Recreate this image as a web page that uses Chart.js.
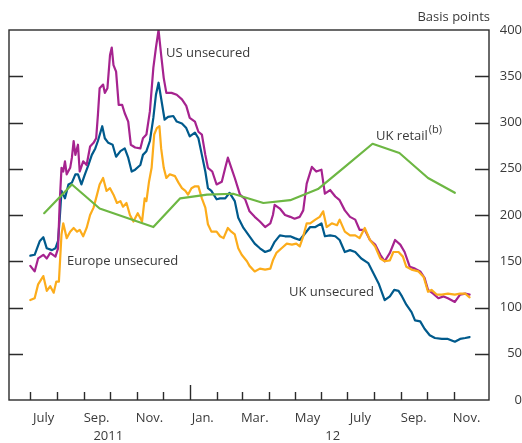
<!DOCTYPE html>
<html>
<head>
<meta charset="utf-8">
<script src="https://cdn.jsdelivr.net/npm/chart.js@4"></script>
<style>
html,body{margin:0;padding:0;background:#fff;}
#wrap{width:522px;height:443px;}
</style>
</head>
<body>
<div id="wrap"><canvas id="c" width="522" height="443"></canvas></div>
<script>
// x values: days since 1 July 2011; y values: basis points
const ukUnsecuredDays = [0,5,11,15,19,25,29,32,34,36,40,44,48,52,55,59,63,67,71,75,78,83,86,90,95,99,104,109,113,117,121,127,130,134,138,142,145,148,151,155,159,165,169,175,180,184,190,194,198,202,205,209,215,219,225,230,236,240,246,253,259,265,271,277,282,288,294,300,305,311,317,323,329,336,340,346,352,357,363,369,375,382,390,396,402,409,415,420,425,429,434,440,444,450,455,461,467,475,482,490,496,502,507];
const ukUnsecuredBp   = [156,157,172,176,164,162,164,172,197,226,218,233,235,244,244,233,244,254,265,272,280,296,283,278,276,263,269,272,262,247,249,254,265,269,280,305,330,343,326,303,306,307,301,299,294,285,289,283,265,247,229,226,217,218,218,224,215,197,186,177,169,164,160,162,171,178,177,177,175,173,180,187,187,191,177,178,177,173,160,162,160,153,148,137,126,108,112,119,118,112,103,95,86,85,77,70,67,66,66,63,66,67,68];

const usUnsecuredDays = [0,5,9,15,19,23,29,32,34,36,38,40,42,46,48,50,52,55,57,61,65,69,73,76,78,80,84,86,89,92,94,96,99,102,106,109,113,116,121,127,130,134,138,142,145,148,151,154,157,163,169,175,180,184,190,194,198,202,205,210,215,221,225,228,232,236,242,248,253,259,265,271,277,280,282,288,294,300,305,311,315,319,325,330,336,340,346,352,357,363,369,375,380,386,392,398,404,409,415,421,427,432,438,444,450,455,459,465,471,477,482,490,496,502,507];
const usUnsecuredBp   = [145,139,153,157,153,159,155,164,215,251,247,258,244,251,262,280,265,276,247,258,254,274,278,283,308,337,341,332,337,373,381,362,355,319,319,310,301,276,273,272,283,287,312,359,381,400,373,348,332,332,330,325,318,305,301,290,287,265,251,247,233,236,251,262,251,240,222,217,204,198,193,187,191,200,211,207,200,198,196,198,205,234,252,247,249,223,227,220,216,205,198,195,184,184,173,168,157,150,159,173,168,160,144,142,139,132,119,115,110,112,110,106,114,115,114];

const europeUnsecuredDays = [0,5,9,15,19,23,27,30,33,36,38,42,46,50,54,57,61,65,69,73,77,80,84,88,92,96,100,104,107,111,115,119,124,129,132,134,137,140,143,146,149,151,154,157,161,167,171,175,179,182,186,190,194,198,202,205,209,215,219,223,228,232,236,240,244,250,253,259,265,271,277,280,284,290,296,302,307,311,315,319,323,329,334,338,342,348,354,357,363,369,375,380,386,392,398,404,409,415,419,425,430,434,440,448,454,459,463,469,475,482,490,496,502,507];
const europeUnsecuredBp   = [108,110,125,134,118,123,116,128,128,179,191,175,182,186,182,184,177,186,200,208,222,233,240,226,229,222,213,215,209,213,200,193,202,193,218,215,236,251,287,294,296,272,251,240,244,242,235,229,226,222,229,231,231,218,208,190,182,182,177,175,186,182,179,164,157,150,145,139,142,141,142,151,159,164,169,168,169,166,177,191,191,195,198,204,187,191,189,195,182,178,178,175,186,173,166,153,150,151,160,160,155,144,141,139,133,117,119,114,114,115,114,115,115,111];

const ukRetailDays = [16,48,80,111,142,173,204,234,269,300,332,363,395,426,459,490];
const ukRetailBp   = [202,233,207,197,187,218,222,223,213,216,228,252,277,267,240,224];

const yTicks = [0,50,100,150,200,250,300,350,400];
const monthTickDays = [0,31,62,92,123,153,184,215,244,275,305,336,366,397,428,458,489];
const yearStartDays = [184];
const monthLabels = ['July','Sep.','Nov.','Jan.','Mar.','May','July','Sep.','Nov.'];
const monthLabelDays = [15.5,76.5,137.5,199,259,320,381,442.5,503.5];
const yearLabels = ['2011','12'];
const yearLabelDays = [90,349];

const FONT = '"Open Sans", "Noto Sans", sans-serif';
const TEXT = '#3a3a3a';

function pts(days, vals){ return days.map((d,i)=>({x:d,y:vals[i]})); }

const frame = {
  id:'frame',
  afterDraw(chart){
    const {ctx, chartArea:a, scales:{x, y}} = chart;
    ctx.save();
    ctx.strokeStyle = '#2b2b2b';
    ctx.lineWidth = 1.4;
    ctx.strokeRect(a.left, a.top, a.right - a.left, a.bottom - a.top);
    ctx.beginPath();
    yTicks.forEach(v=>{
      if (v <= y.min || v >= y.max) return;
      const py = Math.round(y.getPixelForValue(v)) + 0.5;
      ctx.moveTo(a.left, py); ctx.lineTo(a.left + 14, py);
      ctx.moveTo(a.right - 14, py); ctx.lineTo(a.right, py);
    });
    monthTickDays.forEach(d=>{
      const px = Math.round(x.getPixelForValue(d)) + 0.5;
      const len = yearStartDays.includes(d) ? 15 : 8;
      ctx.moveTo(px, a.bottom); ctx.lineTo(px, a.bottom - len);
    });
    ctx.stroke();

    ctx.fillStyle = TEXT;
    ctx.textBaseline = 'middle';
    ctx.font = '13px ' + FONT;
    ctx.textAlign = 'center';
    yearLabels.forEach((t,i)=> ctx.fillText(t, x.getPixelForValue(yearLabelDays[i]), 436));
    ctx.textAlign = 'right';
    ctx.fillText('Basis points', 490, 17);
    ctx.textAlign = 'left';
    ctx.fillText('US unsecured', 166, 53);
    ctx.fillText('Europe unsecured', 67, 261);
    ctx.fillText('UK unsecured', 289, 292);
    ctx.fillText('UK retail', 376, 136);
    const w = ctx.measureText('UK retail').width;
    ctx.font = '11px ' + FONT;
    ctx.fillText('(b)', 376 + w + 1, 130);
    ctx.restore();
  }
};

new Chart(document.getElementById('c'), {
  type: 'line',
  data: {
    datasets: [
      {label:'UK retail', data: pts(ukRetailDays, ukRetailBp), borderColor:'#6db743', order:0},
      {label:'Europe unsecured', data: pts(europeUnsecuredDays, europeUnsecuredBp), borderColor:'#fcac1b', order:1},
      {label:'US unsecured', data: pts(usUnsecuredDays, usUnsecuredBp), borderColor:'#a6238f', order:2},
      {label:'UK unsecured', data: pts(ukUnsecuredDays, ukUnsecuredBp), borderColor:'#005a8c', order:3}
    ]
  },
  options: {
    responsive: false,
    animation: false,
    devicePixelRatio: 1,
    layout: {padding: {left: 9, top: 30, right: 0, bottom: 0}},
    elements: {
      line: {borderWidth: 2.2, tension: 0, borderJoinStyle: 'round', borderCapStyle: 'round'},
      point: {radius: 0}
    },
    plugins: {legend: {display: false}, tooltip: {enabled: false}},
    scales: {
      x: {
        type: 'linear',
        min: -24.6, max: 529.4,
        grid: {display: false},
        border: {display: false},
        afterBuildTicks: s => { s.ticks = monthLabelDays.map(v => ({value: v})); },
        afterFit: s => { s.height = 43; },
        ticks: {
          autoSkip: false, maxRotation: 0, padding: 2,
          color: TEXT, font: {family: FONT, size: 13},
          callback: (v, i) => monthLabels[i]
        }
      },
      y: {
        position: 'right',
        min: 0, max: 400,
        grid: {display: false},
        border: {display: false},
        afterBuildTicks: s => { s.ticks = yTicks.map(v => ({value: v})); },
        afterFit: s => { s.width = 33; },
        ticks: {
          crossAlign: 'far', padding: 9,
          color: TEXT, font: {family: FONT, size: 13}
        }
      }
    }
  },
  plugins: [frame]
});
</script>
</body>
</html>
